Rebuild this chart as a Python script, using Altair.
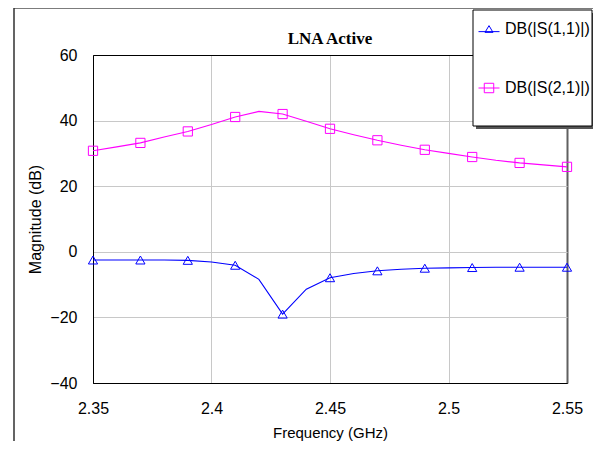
import altair as alt
import pandas as pd

# ---- data ----
freq = [2.35, 2.36, 2.37, 2.38, 2.39, 2.40, 2.41, 2.42, 2.43, 2.44, 2.45,
        2.46, 2.47, 2.48, 2.49, 2.50, 2.51, 2.52, 2.53, 2.54, 2.55]
s11_db = [-2.5, -2.5, -2.5, -2.5, -2.6, -3.1, -4.1, -8.4, -19.0, -11.4, -7.9,
          -6.6, -5.8, -5.3, -5.0, -4.9, -4.8, -4.7, -4.7, -4.7, -4.7]
s21_db = [30.8, 32.0, 33.2, 35.0, 36.7, 38.8, 41.1, 42.8, 42.0, 39.8, 37.5,
          35.7, 34.0, 32.5, 31.1, 30.0, 28.9, 27.9, 27.1, 26.5, 25.9]
marker_freq = [2.35, 2.37, 2.39, 2.41, 2.43, 2.45, 2.47, 2.49, 2.51, 2.53, 2.55]

series_names = ["DB(|S(1,1)|)", "DB(|S(2,1)|)"]
series_colors = ["#0000ff", "#ff00ff"]
series_shapes = ["triangle-up", "square"]
legend_paths = [
    "M-1,0.25H1M-0.38,0.32L0,-0.32L0.38,0.32Z",
    "M-1,0H1M-0.45,-0.45H0.45V0.45H-0.45Z",
]
x_ticks = [2.35, 2.4, 2.45, 2.5, 2.55]
y_ticks = [-40, -20, 0, 20, 40, 60]

rows = []
for f, a, b in zip(freq, s11_db, s21_db):
    rows.append({"freq": f, "series": series_names[0], "db": a})
    rows.append({"freq": f, "series": series_names[1], "db": b})
df = pd.DataFrame(rows)
mk = df[df["freq"].round(3).isin([round(v, 3) for v in marker_freq])]

one = pd.DataFrame({"k": [0]})

FONT = "Liberation Sans"

legend = alt.Legend(
    title=None,
    orient="none",
    legendX=385,
    legendY=-37,
    padding=0,
    labelFont=FONT,
    labelFontSize=16,
    labelColor="black",
    labelOffset=5,
    symbolSize=441,
    symbolStrokeWidth=1,
    rowPadding=40,
)

x_enc = alt.X(
    "freq:Q",
    scale=alt.Scale(domain=[2.35, 2.55], nice=False, zero=False),
    axis=alt.Axis(
        values=x_ticks,
        format="~g",
        title="Frequency (GHz)",
        ticks=False,
        tickSize=0,
        labelFlush=False,
        labelPadding=17,
        labelFontSize=16,
        titleFontSize=15,
        titleY=54,
        titleBaseline="alphabetic",
        domainColor="black",
        gridColor={"condition": [{"test": "datum.value > 2.549", "value": "#606060"},
                                 {"test": "datum.value < 2.351", "value": "black"}],
                   "value": "#c8c8c8"},
        gridWidth={"condition": {"test": "datum.value > 2.549", "value": 2}, "value": 1},
    ),
)
y_enc = alt.Y(
    "db:Q",
    scale=alt.Scale(domain=[-40, 60], nice=False),
    axis=alt.Axis(
        values=y_ticks,
        title="Magnitude (dB)",
        ticks=False,
        tickSize=0,
        labelFlush=False,
        labelPadding=16,
        labelFontSize=16,
        titleFontSize=16,
        titleAngle=270,
        titleX=-53,
        titleBaseline="alphabetic",
        domainColor="black",
        gridColor={"condition": {"test": "datum.value > 59 || datum.value < -39", "value": "black"},
                   "value": "#c8c8c8"},
    ),
)
color_enc = alt.Color("series:N",
                      scale=alt.Scale(domain=series_names, range=series_colors),
                      legend=legend)
shape_enc = alt.Shape("series:N",
                      scale=alt.Scale(domain=series_names, range=legend_paths),
                      legend=legend)

lines = alt.Chart(df).mark_line(strokeWidth=1.1).encode(
    x=x_enc, y=y_enc, color=color_enc, detail="series:N"
)
pts_s11 = alt.Chart(mk).transform_filter(
    alt.datum.series == series_names[0]
).mark_point(filled=False, size=85, strokeWidth=1, opacity=1, shape=series_shapes[0]).encode(
    x=x_enc, y=y_enc, color=color_enc
)
pts_s21 = alt.Chart(mk).transform_filter(
    alt.datum.series == series_names[1]
).mark_point(filled=False, size=85, strokeWidth=1, opacity=1, shape=series_shapes[1]).encode(
    x=x_enc, y=y_enc, color=color_enc
)
# legend-only layer (no rows drawn): supplies the line+marker legend symbols
legend_layer = alt.Chart(mk).transform_filter("false").mark_point(
    filled=False, strokeWidth=1, opacity=1
).encode(x=x_enc, y=y_enc, color=color_enc, shape=shape_enc)

frame_top = alt.Chart(one).mark_rule(color="#505050", strokeWidth=1.5).encode(
    x=alt.value(-79), x2=alt.value(530), y=alt.value(-47)
)
frame_left = alt.Chart(one).mark_rule(color="#303030", strokeWidth=1.5).encode(
    x=alt.value(-79), y=alt.value(-47), y2=alt.value(420)
)
legend_shadow = alt.Chart(one).mark_rect(color="#555555").encode(
    x=alt.value(383), x2=alt.value(503), y=alt.value(-42), y2=alt.value(74)
)
legend_box = alt.Chart(one).mark_rect(fill="white", stroke="black", strokeWidth=1).encode(
    x=alt.value(380), x2=alt.value(499), y=alt.value(-45), y2=alt.value(71)
)

chart = alt.layer(
    lines, pts_s11, pts_s21, legend_layer, frame_top, frame_left, legend_shadow, legend_box
).properties(
    width=474,
    height=328,
    autosize=alt.AutoSizeParams(type="none"),
    padding={"left": 85, "top": 47, "right": 26, "bottom": 58},
    title=alt.TitleParams(
        "LNA Active",
        font="Liberation Serif",
        fontSize=17,
        fontWeight="bold",
        color="black",
        anchor="middle",
        baseline="alphabetic",
        offset=0,
        dy=53.5,
    ),
).configure_view(stroke=None).configure_axis(
    labelFont=FONT, titleFont=FONT, labelColor="black", titleColor="black",
    titleFontWeight="normal", gridOpacity=1,
)

chart.save("out.html", embed_options={"renderer": "svg", "actions": False})
